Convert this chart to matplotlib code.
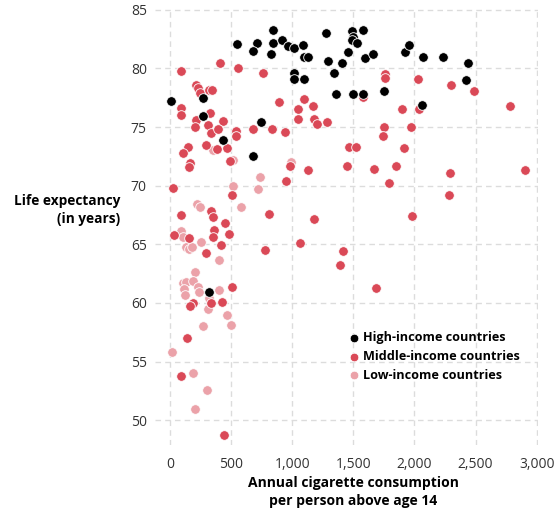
import matplotlib
matplotlib.use("Agg")
import matplotlib.pyplot as plt

# annual cigarettes per person (x) and life expectancy (y)
high_x = [10, 270, 273, 436, 551, 714, 682, 845, 845, 916, 826, 968, 744, 682, 322,
          1017, 1088, 1094, 1132, 1279, 1486, 1495, 1486, 1527, 1582, 1453, 1295, 1410,
          1342, 1595, 1663, 1017, 1017, 1099, 1358, 1500, 1577, 1753, 1922, 1958, 2073,
          2231, 2441, 2422, 2059]
high_y = [77.2, 77.5, 75.9, 73.9, 82.1, 82.2, 81.5, 83.3, 82.2, 82.4, 81.2, 81.9, 75.4,
          72.5, 60.9, 81.7, 82.0, 81.0, 81.0, 83.0, 83.2, 82.7, 82.4, 82.2, 83.3, 81.4,
          80.6, 80.5, 79.6, 80.9, 81.2, 79.6, 79.1, 79.1, 77.8, 77.8, 77.8, 78.1, 81.4,
          82.0, 81.0, 81.0, 80.5, 79.0, 76.9]

mid_x = [409, 95, 559, 766, 218, 232, 251, 322, 349, 88, 93, 327, 218, 202, 313, 436,
         333, 395, 540, 540, 682, 837, 938, 894,
         27, 88, 145, 109, 164, 155, 292, 390, 464, 491, 982, 1132, 954, 505, 335, 354,
         810, 1178, 1467, 1522, 1445,
         1759, 1759, 1099, 1045, 1172, 1045, 1181, 1205, 1287, 1577, 1895, 1753, 1740, 1975,
         2032, 2299, 2487, 2782, 2040,
         1915, 1669, 1846, 1794, 2291, 2285, 2904, 1977, 1063, 1415, 1393, 1685,
         450, 362, 485, 354, 35, 158, 417, 294, 780,
         505, 191, 164, 335, 428, 142, 88, 442]
mid_y = [80.5, 79.8, 80.0, 79.6, 78.6, 78.3, 77.9, 78.2, 78.2, 76.6, 76.0, 76.2, 75.6,
         75.0, 75.2, 75.5, 74.5, 74.8, 74.7, 74.2, 74.8, 74.8, 74.6, 77.1,
         69.8, 67.5, 73.3, 72.8, 71.9, 71.6, 73.5, 73.1, 73.2, 72.1, 71.7, 71.3, 70.4,
         69.2, 67.8, 67.3, 67.6, 67.2, 73.3, 73.3, 71.7,
         79.5, 79.2, 77.4, 76.5, 76.8, 75.7, 75.7, 75.3, 75.4, 77.6, 76.5, 75.0, 74.2, 75.0,
         79.1, 78.6, 78.1, 76.8, 76.5,
         73.2, 71.4, 71.7, 70.2, 71.1, 69.2, 71.3, 67.4, 65.1, 64.4, 63.2, 61.3,
         66.8, 66.2, 65.9, 65.6, 65.8, 65.5, 64.9, 64.3, 64.5,
         61.4, 60.0, 59.7, 60.0, 60.1, 57.0, 53.8, 48.7]

low_x = [350, 513, 736, 723, 987, 513, 224, 245, 581, 90, 109, 136, 155, 183, 259, 401,
         205, 109, 131, 191, 115, 232, 240, 403, 128, 322, 313, 464, 497, 273, 22, 191,
         308, 210]
low_y = [73.0, 72.2, 70.7, 69.7, 72.0, 70.0, 68.4, 68.2, 68.2, 66.1, 65.6, 64.8, 64.6,
         64.8, 65.2, 63.7, 62.6, 61.7, 61.8, 61.9, 61.2, 61.4, 60.9, 61.1, 60.7, 60.4,
         59.5, 59.0, 58.1, 58.0, 55.8, 54.0, 52.6, 51.0]

x_ticks = [0, 500, 1000, 1500, 2000, 2500, 3000]
y_ticks = [50, 55, 60, 65, 70, 75, 80, 85]

plt.rcParams["font.family"] = ["Open Sans", "DejaVu Sans"]

fig = plt.figure(figsize=(5.54, 5.09), dpi=100)
ax = fig.add_axes([0.28, 0.126, 0.691, 0.856])

dot = dict(s=48, edgecolors="white", linewidths=0.6, zorder=3)
ax.scatter(low_x, low_y, c="#EBA2A9", label="Low-income countries", **dot)
ax.scatter(mid_x, mid_y, c="#DA4957", label="Middle-income countries", **dot)
ax.scatter(high_x, high_y, c="#000000", label="High-income countries", **dot)

ax.set_xlim(-120, 3010)
ax.set_ylim(47.9, 85.05)
ax.set_xticks(x_ticks)
ax.set_xticklabels([f"{t:,}" for t in x_ticks])
ax.set_yticks(y_ticks)
for s in ax.spines.values():
    s.set_visible(False)
ax.tick_params(length=0, labelsize=10, colors="#333333")
ax.tick_params(axis="x", pad=9)
ax.tick_params(axis="y", pad=6)
ax.grid(True, color="#dcdcdc", linestyle=(0, (4, 3)), linewidth=1)
ax.set_axisbelow(True)

fig.text(120 / 554, 1 - 210 / 509, "Life expectancy\n(in years)", ha="right", va="center",
         fontsize=9.8, fontweight="bold", linespacing=1.35)
fig.text(353 / 554, 1 - 492 / 509, "Annual cigarette consumption\nper person above age 14",
         ha="center", va="center", fontsize=10, fontweight="bold", linespacing=1.35)

h, l = ax.get_legend_handles_labels()
leg = ax.legend(h[::-1], l[::-1], loc="upper left", bbox_to_anchor=(340 / 554, 1 - 325 / 509),
                bbox_transform=fig.transFigure, frameon=False, handletextpad=0.1,
                labelspacing=0.45, borderpad=0, handlelength=1.2, markerscale=0.9,
                prop={"weight": "bold", "size": 9.1})

fig.savefig("out.png", dpi=100)
